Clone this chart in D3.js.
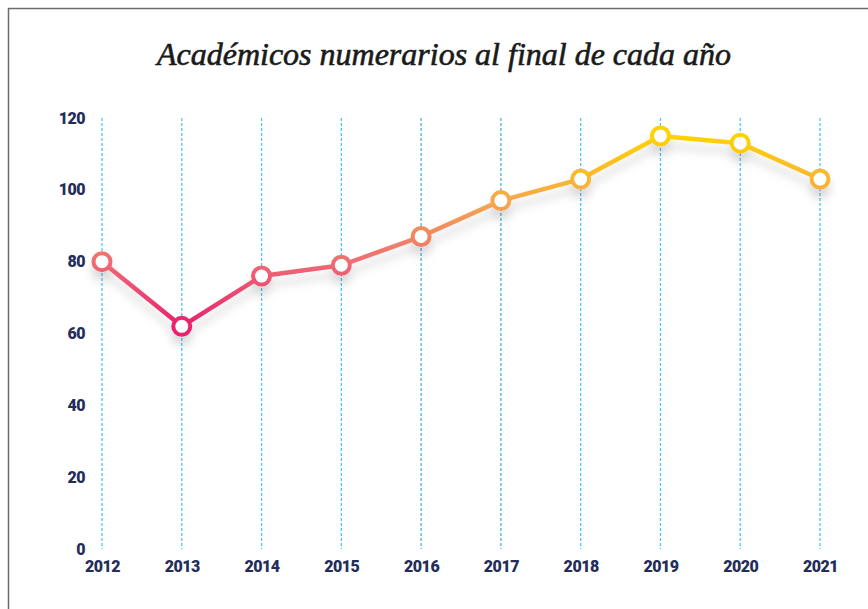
<!DOCTYPE html>
<html>
<head>
<meta charset="utf-8">
<script src="https://cdn.jsdelivr.net/npm/d3@7"></script>
<style>
  body { margin: 0; background: #fff; }
  svg { display: block; }
</style>
</head>
<body>
<div id="chart"></div>
<script>
// data
var years = ["2012", "2013", "2014", "2015", "2016", "2017", "2018", "2019", "2020", "2021"];
var academicos = [80, 62, 76, 79, 87, 97, 103, 115, 113, 103];
var yTicks = [0, 20, 40, 60, 80, 100, 120];
var titulo = "Académicos numerarios al final de cada año";

var W = 868, H = 609;

var svg = d3.select("#chart")
  .append("svg")
  .attr("width", W)
  .attr("height", H);

var defs = svg.append("defs");

// soft shadow under the line
var filt = defs.append("filter")
  .attr("id", "sombra")
  .attr("x", "-10%").attr("y", "-30%")
  .attr("width", "120%").attr("height", "160%");
filt.append("feDropShadow")
  .attr("dx", 0).attr("dy", 9)
  .attr("stdDeviation", 5)
  .attr("flood-color", "#000")
  .attr("flood-opacity", 0.15);

// frame (only top and left edges visible)
svg.append("rect")
  .attr("x", 8.5).attr("y", 8.5)
  .attr("width", W + 20).attr("height", H + 20)
  .attr("fill", "none")
  .attr("stroke", "#6b6b6b")
  .attr("stroke-width", 1.5);

// title
svg.append("text")
  .attr("x", 444)
  .attr("y", 65)
  .attr("text-anchor", "middle")
  .style("font-family", "'Liberation Serif', 'DejaVu Serif', serif")
  .style("font-style", "italic")
  .style("font-size", "32px")
  .style("fill", "#1a1a1a")
  .style("stroke", "#1a1a1a")
  .style("stroke-width", "0.6px")
  .text(titulo);

var x = d3.scalePoint()
  .domain(years)
  .range([102, 820]);

var y = d3.scaleLinear()
  .domain([0, 120])
  .range([549, 118]);

// vertical dashed grid lines
svg.append("g")
  .selectAll("line")
  .data(years)
  .enter()
  .append("line")
    .attr("x1", function(d) { return x(d); })
    .attr("x2", function(d) { return x(d); })
    .attr("y1", y(120))
    .attr("y2", y(0))
    .attr("stroke", function(d) { return (d == "2016" || d == "2017") ? "#4fb0d6" : "#4cc8f0"; })
    .attr("stroke-width", 1.3)
    .attr("stroke-dasharray", "3,2");

var fuente = "Roboto, 'Noto Sans', sans-serif";

// Y axis
var yAxis = svg.append("g")
  .attr("transform", "translate(85,0)")
  .style("font-family", fuente)
  .style("font-weight", "900")
  .style("font-size", "16px")
  .call(d3.axisLeft(y).tickValues(yTicks).tickSize(0).tickPadding(0));
yAxis.select(".domain").remove();
yAxis.selectAll("text").attr("fill", "#242d5a").attr("dy", "0.32em")
  .attr("letter-spacing", "-0.5px");

// X axis
var xAxis = svg.append("g")
  .attr("transform", "translate(0,560)")
  .style("font-family", fuente)
  .style("font-weight", "900")
  .style("font-size", "16px")
  .call(d3.axisBottom(x).tickSize(0).tickPadding(0));
xAxis.select(".domain").remove();
xAxis.selectAll("text").attr("fill", "#242d5a").attr("dy", "0.75em")
  .attr("letter-spacing", "-0.5px");

// colour gradient by value (pink low, yellow high)
var grad = defs.append("linearGradient")
  .attr("id", "degradado")
  .attr("gradientUnits", "userSpaceOnUse")
  .attr("x1", 0).attr("x2", 0)
  .attr("y1", y(62)).attr("y2", y(115));
grad.append("stop").attr("offset", "0%").attr("stop-color", "#e8206c");
grad.append("stop").attr("offset", "33%").attr("stop-color", "#ef6a74");
grad.append("stop").attr("offset", "65%").attr("stop-color", "#f6a64e");
grad.append("stop").attr("offset", "100%").attr("stop-color", "#ffd200");

var data = years.map(function(d, i) { return {year: d, value: academicos[i]}; });

var line = d3.line()
  .x(function(d) { return x(d.year); })
  .y(function(d) { return y(d.value); });

var g = svg.append("g").attr("filter", "url(#sombra)");

g.append("path")
  .datum(data)
  .attr("d", line)
  .attr("fill", "none")
  .attr("stroke", "url(#degradado)")
  .attr("stroke-width", 4.5)
  .attr("stroke-linejoin", "round");

g.selectAll("circle")
  .data(data)
  .enter()
  .append("circle")
    .attr("cx", function(d) { return x(d.year); })
    .attr("cy", function(d) { return y(d.value); })
    .attr("r", 8.5)
    .attr("fill", "#fff")
    .attr("stroke", "url(#degradado)")
    .attr("stroke-width", 4);
</script>
</body>
</html>
